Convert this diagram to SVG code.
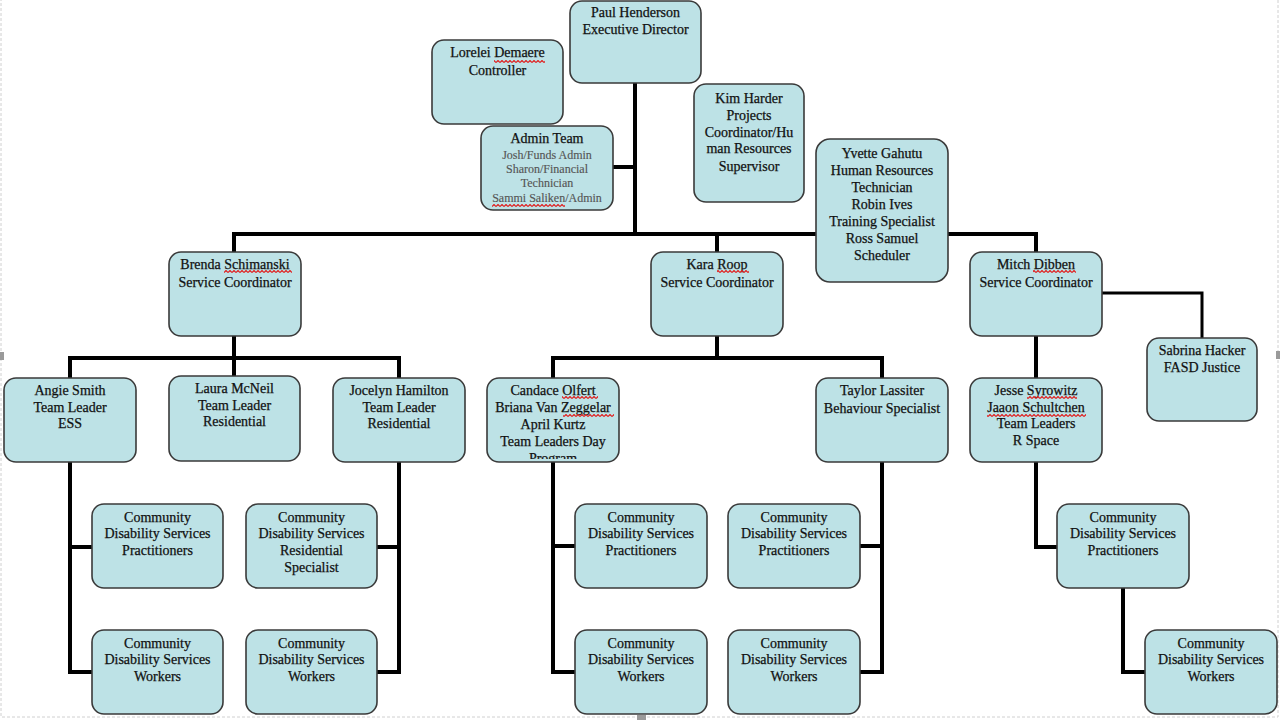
<svg xmlns="http://www.w3.org/2000/svg" width="1280" height="720" viewBox="0 0 1280 720">
<style>
.box{fill:#bde2e6;stroke:#3a3a3a;stroke-width:1.6}
.t{font-family:"Liberation Serif","Times New Roman",serif;font-size:14px;fill:#111;stroke:#111;stroke-width:0.25;text-anchor:middle}
.s{font-size:12px;fill:#555;stroke:#555;stroke-width:0.15}
.c{stroke:#000;stroke-width:4;fill:none;stroke-linejoin:miter}
.c3{stroke:#000;stroke-width:3;fill:none}
.sq{fill:url(#wave)}
</style>
<defs>
<pattern id="wave" patternUnits="userSpaceOnUse" x="0" y="0" width="4" height="3">
<path d="M0 2.5 L2 0.5 L4 2.5" stroke="#e02020" stroke-width="1.2" fill="none"/>
</pattern>
<clipPath id="clipCand"><rect x="487" y="378" width="132" height="81"/></clipPath>
</defs>
<rect x="0" y="0" width="1280" height="720" fill="#fff"/>
<rect x="1" y="-3" width="1277" height="720" fill="none" stroke="#d0d0d0" stroke-width="1" stroke-dasharray="3 2"/>
<rect x="0" y="352" width="4" height="8" fill="#9a9a9a"/>
<rect x="1276" y="351" width="4" height="8" fill="#9a9a9a"/>
<rect x="637" y="715" width="9" height="5" fill="#9a9a9a"/>

<g id="connectors">
<path class="c" d="M635 83 V234"/>
<path class="c" d="M613 167 H635"/>
<path class="c" d="M234 252 V234 H1036 V252"/>
<path class="c" d="M717 234 V252"/>
<path class="c" d="M234 336 V358"/>
<path class="c" d="M70 378 V358 H399 V378"/>
<path class="c" d="M234 358 V376"/>
<path class="c" d="M70 462 V672 H92"/>
<path class="c" d="M70 547 H92"/>
<path class="c" d="M399 462 V672 H377"/>
<path class="c" d="M399 547 H377"/>
<path class="c" d="M717 336 V358"/>
<path class="c" d="M553 378 V358 H882 V378"/>
<path class="c" d="M553 462 V672 H575"/>
<path class="c" d="M553 546 H575"/>
<path class="c" d="M882 462 V672 H860"/>
<path class="c" d="M882 546 H860"/>
<path class="c" d="M1036 336 V378"/>
<path class="c3" d="M1102 293 H1202 V338"/>
<path class="c" d="M1036 462 V547 H1057"/>
<path class="c" d="M1123 588 V672 H1145"/>
</g>

<g id="paul">
<rect class="box" x="570" y="1" width="131" height="82" rx="12"/>
<text class="t" x="635.5" y="17">Paul Henderson</text>
<text class="t" x="635.5" y="34">Executive Director</text>
</g>
<g id="lorelei">
<rect class="box" x="432" y="40" width="131" height="84" rx="12"/>
<text class="t" x="497.5" y="57">Lorelei Demaere</text>
<text class="t" x="497.5" y="75">Controller</text>
<rect class="sq" x="494" y="60" width="51" height="3"/>
</g>
<g id="kim">
<rect class="box" x="694" y="84" width="110" height="118" rx="12"/>
<text class="t" x="749" y="103">Kim Harder</text>
<text class="t" x="749" y="120">Projects</text>
<text class="t" x="749" y="137">Coordinator/Hu</text>
<text class="t" x="749" y="153">man Resources</text>
<text class="t" x="749" y="171">Supervisor</text>
</g>
<g id="admin">
<rect class="box" x="481" y="126" width="132" height="84" rx="12"/>
<text class="t" x="547" y="143">Admin Team</text>
<text class="t s" x="547" y="159">Josh/Funds Admin</text>
<text class="t s" x="547" y="173">Sharon/Financial</text>
<text class="t s" x="547" y="187">Technician</text>
<text class="t s" x="547" y="202">Sammi Saliken/Admin</text>
<rect class="sq" x="492" y="204" width="73" height="3"/>
</g>
<g id="yvette">
<rect class="box" x="816" y="139" width="132" height="143" rx="14"/>
<text class="t" x="882" y="158">Yvette Gahutu</text>
<text class="t" x="882" y="175">Human Resources</text>
<text class="t" x="882" y="192">Technician</text>
<text class="t" x="882" y="209">Robin Ives</text>
<text class="t" x="882" y="226">Training Specialist</text>
<text class="t" x="882" y="243">Ross Samuel</text>
<text class="t" x="882" y="260">Scheduler</text>
</g>
<g id="brenda">
<rect class="box" x="169" y="252" width="132" height="84" rx="12"/>
<text class="t" x="235" y="269">Brenda Schimanski</text>
<text class="t" x="235" y="287">Service Coordinator</text>
<rect class="sq" x="224" y="270" width="68" height="3"/>
</g>
<g id="kara">
<rect class="box" x="651" y="252" width="132" height="84" rx="12"/>
<text class="t" x="717" y="269">Kara Roop</text>
<text class="t" x="717" y="287">Service Coordinator</text>
<rect class="sq" x="717" y="270" width="32" height="3"/>
</g>
<g id="mitch">
<rect class="box" x="970" y="252" width="132" height="84" rx="12"/>
<text class="t" x="1036" y="269">Mitch Dibben</text>
<text class="t" x="1036" y="287">Service Coordinator</text>
<rect class="sq" x="1033" y="270" width="43" height="3"/>
</g>
<g id="sabrina">
<rect class="box" x="1147" y="338" width="110" height="83" rx="12"/>
<text class="t" x="1202" y="355">Sabrina Hacker</text>
<text class="t" x="1202" y="372">FASD Justice</text>
</g>
<g id="angie">
<rect class="box" x="4" y="378" width="132" height="84" rx="12"/>
<text class="t" x="70" y="395">Angie Smith</text>
<text class="t" x="70" y="412">Team Leader</text>
<text class="t" x="70" y="428">ESS</text>
</g>
<g id="laura">
<rect class="box" x="169" y="376" width="131" height="85" rx="12"/>
<text class="t" x="234.5" y="393">Laura McNeil</text>
<text class="t" x="234.5" y="410">Team Leader</text>
<text class="t" x="234.5" y="426">Residential</text>
</g>
<g id="jocelyn">
<rect class="box" x="333" y="378" width="132" height="84" rx="12"/>
<text class="t" x="399" y="395">Jocelyn Hamilton</text>
<text class="t" x="399" y="412">Team Leader</text>
<text class="t" x="399" y="428">Residential</text>
</g>
<g id="candace">
<rect class="box" x="487" y="378" width="132" height="84" rx="12"/>
<g clip-path="url(#clipCand)">
<text class="t" x="553" y="395">Candace Olfert</text>
<text class="t" x="553" y="412">Briana Van Zeggelar</text>
<text class="t" x="553" y="429">April Kurtz</text>
<text class="t" x="553" y="446">Team Leaders Day</text>
<text class="t" x="553" y="463">Program</text>
</g>
<rect class="sq" x="562" y="396" width="36" height="3"/>
<rect class="sq" x="563" y="414" width="51" height="3"/>
</g>
<g id="taylor">
<rect class="box" x="816" y="378" width="132" height="84" rx="12"/>
<text class="t" x="882" y="395">Taylor Lassiter</text>
<text class="t" x="882" y="413">Behaviour Specialist</text>
</g>
<g id="jesse">
<rect class="box" x="970" y="378" width="132" height="84" rx="12"/>
<text class="t" x="1036" y="395">Jesse Syrowitz</text>
<text class="t" x="1036" y="412">Jaaon Schultchen</text>
<text class="t" x="1036" y="428">Team Leaders</text>
<text class="t" x="1036" y="445">R Space</text>
<rect class="sq" x="1027" y="396" width="50" height="3"/>
<rect class="sq" x="987" y="414" width="99" height="3"/>
</g>
<g id="cds-prac-1">
<rect class="box" x="92" y="504" width="131" height="84" rx="12"/>
<text class="t" x="157.5" y="522">Community</text>
<text class="t" x="157.5" y="538">Disability Services</text>
<text class="t" x="157.5" y="555">Practitioners</text>
</g>
<g id="cds-res-spec">
<rect class="box" x="246" y="504" width="131" height="84" rx="12"/>
<text class="t" x="311.5" y="522">Community</text>
<text class="t" x="311.5" y="538">Disability Services</text>
<text class="t" x="311.5" y="555">Residential</text>
<text class="t" x="311.5" y="572">Specialist</text>
</g>
<g id="cds-work-1">
<rect class="box" x="92" y="630" width="131" height="84" rx="12"/>
<text class="t" x="157.5" y="648">Community</text>
<text class="t" x="157.5" y="664">Disability Services</text>
<text class="t" x="157.5" y="681">Workers</text>
</g>
<g id="cds-work-2">
<rect class="box" x="246" y="630" width="131" height="84" rx="12"/>
<text class="t" x="311.5" y="648">Community</text>
<text class="t" x="311.5" y="664">Disability Services</text>
<text class="t" x="311.5" y="681">Workers</text>
</g>
<g id="cds-prac-2">
<rect class="box" x="575" y="504" width="132" height="84" rx="12"/>
<text class="t" x="641" y="522">Community</text>
<text class="t" x="641" y="538">Disability Services</text>
<text class="t" x="641" y="555">Practitioners</text>
</g>
<g id="cds-work-3">
<rect class="box" x="575" y="630" width="132" height="84" rx="12"/>
<text class="t" x="641" y="648">Community</text>
<text class="t" x="641" y="664">Disability Services</text>
<text class="t" x="641" y="681">Workers</text>
</g>
<g id="cds-prac-3">
<rect class="box" x="728" y="504" width="132" height="84" rx="12"/>
<text class="t" x="794" y="522">Community</text>
<text class="t" x="794" y="538">Disability Services</text>
<text class="t" x="794" y="555">Practitioners</text>
</g>
<g id="cds-work-4">
<rect class="box" x="728" y="630" width="132" height="84" rx="12"/>
<text class="t" x="794" y="648">Community</text>
<text class="t" x="794" y="664">Disability Services</text>
<text class="t" x="794" y="681">Workers</text>
</g>
<g id="cds-prac-4">
<rect class="box" x="1057" y="504" width="132" height="84" rx="12"/>
<text class="t" x="1123" y="522">Community</text>
<text class="t" x="1123" y="538">Disability Services</text>
<text class="t" x="1123" y="555">Practitioners</text>
</g>
<g id="cds-work-5">
<rect class="box" x="1145" y="630" width="132" height="84" rx="12"/>
<text class="t" x="1211" y="648">Community</text>
<text class="t" x="1211" y="664">Disability Services</text>
<text class="t" x="1211" y="681">Workers</text>
</g>
</svg>
